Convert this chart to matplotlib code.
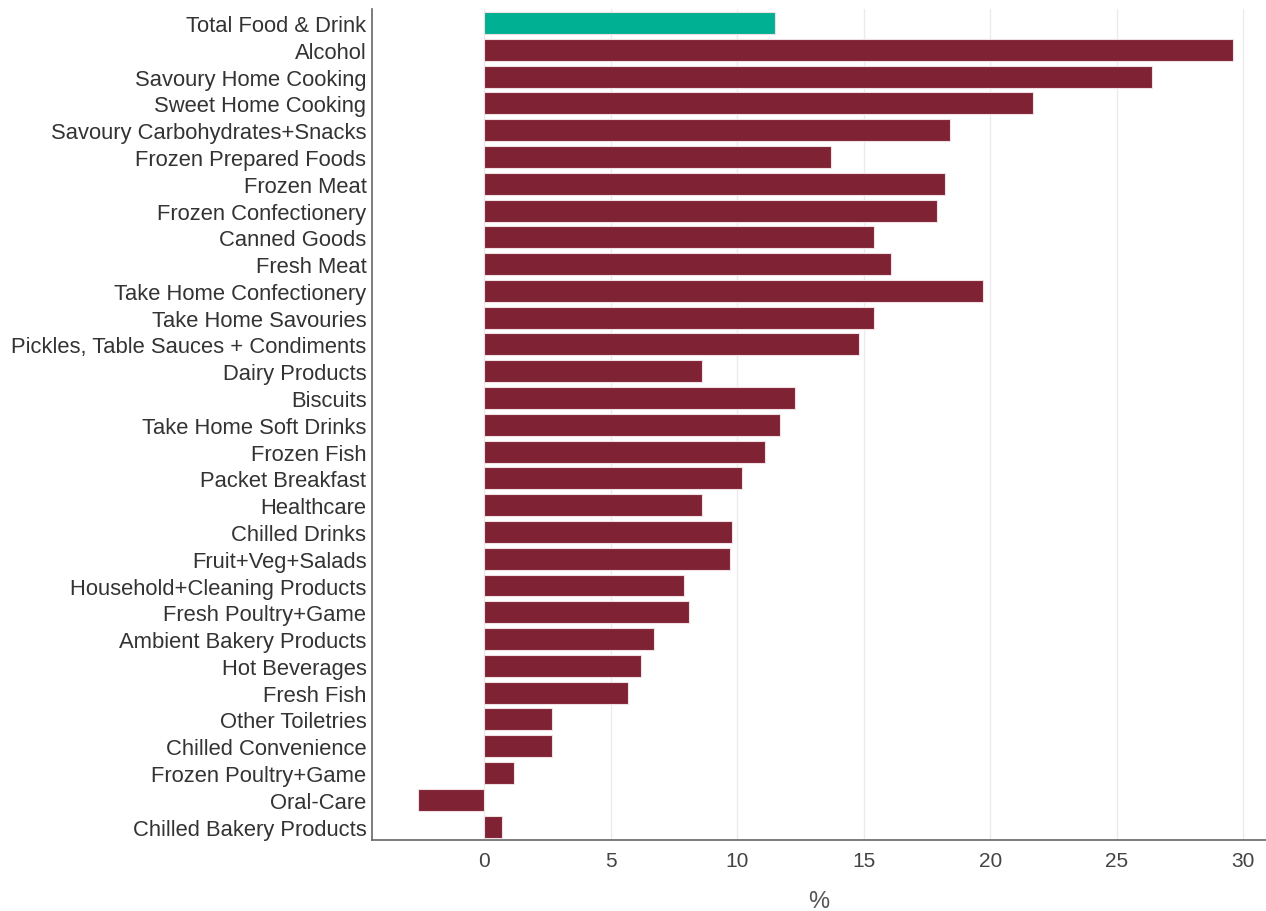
import numpy as np
import matplotlib.pyplot as plt

plt.rcParams['font.family'] = ['Liberation Sans', 'DejaVu Sans']

categories = ["Total Food & Drink", "Alcohol", "Savoury Home Cooking", "Sweet Home Cooking",
              "Savoury Carbohydrates+Snacks", "Frozen Prepared Foods", "Frozen Meat",
              "Frozen Confectionery", "Canned Goods", "Fresh Meat", "Take Home Confectionery",
              "Take Home Savouries", "Pickles, Table Sauces + Condiments", "Dairy Products",
              "Biscuits", "Take Home Soft Drinks", "Frozen Fish", "Packet Breakfast",
              "Healthcare", "Chilled Drinks", "Fruit+Veg+Salads", "Household+Cleaning Products",
              "Fresh Poultry+Game", "Ambient Bakery Products", "Hot Beverages", "Fresh Fish",
              "Other Toiletries", "Chilled Convenience", "Frozen Poultry+Game", "Oral-Care",
              "Chilled Bakery Products"]
values = [11.5, 29.6, 26.4, 21.7, 18.4, 13.7, 18.2, 17.9, 15.4, 16.1, 19.7, 15.4, 14.8, 8.6,
          12.3, 11.7, 11.1, 10.2, 8.6, 9.8, 9.7, 7.9, 8.1, 6.7, 6.2, 5.7, 2.7, 2.7, 1.2, -2.6, 0.7]

colors = ['#00b092'] + ['#7f2233'] * (len(categories) - 1)

fig = plt.figure(figsize=(12.66, 9.12), dpi=100)
ax = fig.add_axes([0.2938, 0.0779, 0.7062, 0.911])

y = np.arange(len(categories))
ax.barh(y, values, height=0.82, color=colors, edgecolor='#f0e0e4', linewidth=0.8, zorder=3)

ax.set_yticks(y)
ax.set_yticklabels(categories, fontsize=15.8, color='#333333')
ax.set_ylim(len(categories) - 0.5, -0.52)
ax.set_xlim(-4.43, 30.9)
ax.set_xticks([0, 5, 10, 15, 20, 25, 30])
ax.tick_params(axis='x', labelsize=15, labelcolor='#444444', length=0, pad=8)
ax.tick_params(axis='y', length=0, pad=4)
ax.grid(axis='x', color='#ebebeb', linewidth=1, zorder=0)
ax.set_xlabel('%', fontsize=17, color='#555555', labelpad=14)

for s in ['top', 'right']:
    ax.spines[s].set_visible(False)
for s in ['left', 'bottom']:
    ax.spines[s].set_color('#666666')
    ax.spines[s].set_linewidth(1.2)

fig.savefig('out.png', dpi=100)
